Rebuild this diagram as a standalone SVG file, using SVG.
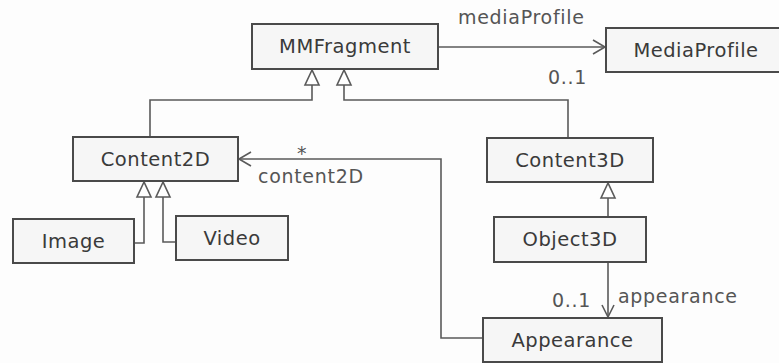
<svg xmlns="http://www.w3.org/2000/svg" width="779" height="363" viewBox="0 0 779 363">
<style>
.box{fill:#f6f6f6;stroke:#4a4a4a;stroke-width:2}
.t{font-family:"DejaVu Sans",Verdana,sans-serif;font-size:19.5px;letter-spacing:0.5px;fill:#3a3a3a;text-anchor:middle}
.l{font-family:"DejaVu Sans",Verdana,sans-serif;font-size:19px;letter-spacing:0.7px;fill:#555}
.c{fill:none;stroke:#5a5a5a;stroke-width:1.6}
.tri{fill:#fff;stroke:#5a5a5a;stroke-width:1.6}
</style>
<rect width="779" height="363" fill="#fdfdfd"/>
<g id="connectors">
  <path class="c" d="M438 47 H605"/>
  <path class="c" d="M593 40 L605 47 L593 54"/>
  <text class="l" x="458" y="24">mediaProfile</text>
  <text class="l" x="548" y="84">0..1</text>
  <path class="c" d="M150 137 V100 H312 V85"/>
  <path class="tri" d="M312 70 L305 85 L319 85 Z"/>
  <path class="c" d="M568 138 V100 H344 V85"/>
  <path class="tri" d="M344 70 L337 85 L351 85 Z"/>
  <path class="c" d="M134 243 H144 V197"/>
  <path class="tri" d="M144 182 L137 197 L151 197 Z"/>
  <path class="c" d="M176 242 H163 V197"/>
  <path class="tri" d="M163 182 L156 197 L170 197 Z"/>
  <path class="c" d="M608 217 V198"/>
  <path class="tri" d="M608 183 L601 198 L615 198 Z"/>
  <path class="c" d="M483 338 H441 V159 H239"/>
  <path class="c" d="M251 152 L239 159 L251 166"/>
  <text class="l" x="297" y="160">*</text>
  <text class="l" x="258" y="183">content2D</text>
  <path class="c" d="M608 262 V317"/>
  <path class="c" d="M602 305 L608 317 L614 305"/>
  <text class="l" x="552" y="307">0..1</text>
  <text class="l" x="618" y="303">appearance</text>
</g>
<g id="MMFragment"><rect class="box" x="252" y="24" width="186" height="45"/><text class="t" x="345" y="53">MMFragment</text></g>
<g id="MediaProfile"><rect class="box" x="606" y="28" width="176" height="44"/><text class="t" x="696" y="57">MediaProfile</text></g>
<g id="Content2D"><rect class="box" x="73" y="137" width="165" height="44"/><text class="t" x="155.5" y="166">Content2D</text></g>
<g id="Content3D"><rect class="box" x="487" y="138" width="166" height="44"/><text class="t" x="570" y="167">Content3D</text></g>
<g id="Image"><rect class="box" x="13" y="219" width="121" height="44"/><text class="t" x="73.5" y="248">Image</text></g>
<g id="Video"><rect class="box" x="176" y="216" width="112" height="44"/><text class="t" x="232" y="245">Video</text></g>
<g id="Object3D"><rect class="box" x="494" y="217" width="152" height="45"/><text class="t" x="570" y="246">Object3D</text></g>
<g id="Appearance"><rect class="box" x="483" y="318" width="179" height="44"/><text class="t" x="572.5" y="347">Appearance</text></g>
</svg>
